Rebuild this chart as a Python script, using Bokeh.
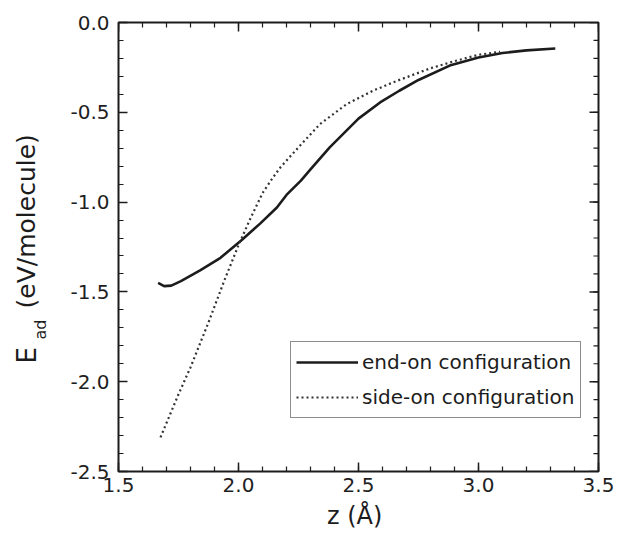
import numpy as np
from bokeh.plotting import figure
from bokeh.layouts import row
from bokeh.models import Range1d, FixedTicker, LinearAxis, Legend
from bokeh.core.properties import value
from bokeh.embed import file_html
from bokeh.resources import INLINE

# ---- data ----
end_on_z = [1.665, 1.69, 1.72, 1.76, 1.84, 1.925, 2.01, 2.09, 2.16, 2.2, 2.26,
            2.3, 2.38, 2.5, 2.59, 2.67, 2.75, 2.88, 3.0, 3.1, 3.2, 3.32]
end_on_E = [-1.45, -1.468, -1.465, -1.44, -1.38, -1.31, -1.215, -1.12, -1.03,
            -0.96, -0.88, -0.818, -0.695, -0.535, -0.445, -0.38, -0.32, -0.24,
            -0.195, -0.17, -0.155, -0.145]

side_on_z = [1.675, 1.75, 1.8, 1.875, 1.94, 2.0, 2.05, 2.1, 2.14, 2.175, 2.26,
             2.34, 2.45, 2.56, 2.66, 2.8, 2.9, 3.0, 3.09]
side_on_E = [-2.31, -2.07, -1.92, -1.67, -1.44, -1.24, -1.09, -0.95, -0.87,
             -0.806, -0.68, -0.565, -0.455, -0.38, -0.325, -0.255, -0.215,
             -0.18, -0.163]

x_ticks = [1.5, 2.0, 2.5, 3.0, 3.5]
x_tick_labels = ["1.5", "2.0", "2.5", "3.0", "3.5"]
y_ticks = [0.0, -0.5, -1.0, -1.5, -2.0, -2.5]
y_tick_labels = ["0.0", "-0.5", "-1.0", "-1.5", "-2.0", "-2.5"]

series_names = ["end-on configuration", "side-on configuration"]
x_title = "z  (Å)"
y_title_parts = ["E", "ad", "(eV/molecule)"]

FONT = "DejaVu Sans"
INK = "#1c1c1c"
X0, X1 = 1.5, 3.5
Y0, Y1 = -2.5, 0.0
H = 535
TOP, BOTTOM = 22, 471   # frame edges in page pixels
LW = 56  # width of the strip that carries the y title

p = figure(width=616 - LW, height=H, output_backend="svg",
           toolbar_location=None,
           x_range=Range1d(X0, X1), y_range=Range1d(Y0, Y1),
           min_border_left=118 - LW, min_border_right=18,
           min_border_top=TOP, min_border_bottom=H - BOTTOM,
           background_fill_color="white",
           border_fill_color="white", outline_line_color=INK,
           outline_line_width=2)
p.grid.visible = False
p.xaxis.visible = False
p.yaxis.visible = False

x_minor = [round(v, 2) for v in np.arange(X0, X1 + 1e-4, 0.1)]
y_minor = [round(v, 2) for v in np.arange(Y0, Y1 + 1e-4, 0.1)]

def style_axis(ax, ticks, labels, minor, standoff):
    ax.ticker = FixedTicker(ticks=ticks, minor_ticks=minor)
    ax.major_label_overrides = {t: l for t, l in zip(ticks, labels)}
    ax.axis_line_color = None
    ax.major_tick_line_color = INK
    ax.major_tick_line_width = 1.5
    ax.minor_tick_line_color = INK
    ax.minor_tick_line_width = 1.2
    ax.major_tick_in = 9
    ax.major_tick_out = 0
    ax.minor_tick_in = 5
    ax.minor_tick_out = 0
    ax.major_label_standoff = standoff
    ax.major_label_text_font = FONT
    ax.major_label_text_color = "#1e1e1e"
    ax.major_label_text_font_size = "20px"

xb = LinearAxis(axis_label=x_title)
style_axis(xb, x_ticks, x_tick_labels, x_minor, 6)
xb.axis_label_text_font = FONT
xb.axis_label_text_font_size = "24px"
xb.axis_label_text_font_style = "normal"
xb.axis_label_text_color = INK
xb.axis_label_standoff = 7
yl = LinearAxis()
style_axis(yl, y_ticks, y_tick_labels, y_minor, 9)
p.add_layout(xb, "below")
p.add_layout(yl, "left")

# mirrored inward ticks on the top and right edges (the outer half of each
# dash is clipped by the frame, leaving an inward tick)
p.scatter(x_ticks, [Y1] * len(x_ticks), marker="dash", angle=np.pi / 2,
          size=18, line_color=INK, line_width=1.5)
p.scatter(x_minor, [Y1] * len(x_minor), marker="dash", angle=np.pi / 2,
          size=10, line_color=INK, line_width=1.2)
p.scatter([X1] * len(y_ticks), y_ticks, marker="dash", size=18,
          line_color=INK, line_width=1.5)
p.scatter([X1] * len(y_minor), y_minor, marker="dash", size=10,
          line_color=INK, line_width=1.2)

r1 = p.line(end_on_z, end_on_E, line_color=INK, line_width=2.6)
r2 = p.line(side_on_z, side_on_E, line_color="#333333", line_width=2.2,
            line_dash="2 3")

legend = Legend(items=[(series_names[0], [r1]), (series_names[1], [r2])],
                location=(172, 53), orientation="vertical")
legend.border_line_color = INK
legend.border_line_width = 1.5
legend.background_fill_color = "white"
legend.background_fill_alpha = 1.0
legend.padding = 5
legend.spacing = 5
legend.margin = 0
legend.glyph_width = 62
legend.glyph_height = 30
legend.label_height = 30
legend.label_standoff = 4
legend.label_text_font = FONT
legend.label_text_font_size = "20px"
legend.label_text_color = INK
p.add_layout(legend, "center")

# strip on the left carrying the composite y title (E with subscript "ad").
# In a row its frame is aligned with the main frame (TOP..BOTTOM), so its
# y range is expressed in page pixels measured upward from the bottom edge.
t = figure(width=LW, height=H, output_backend="svg", toolbar_location=None,
           x_range=Range1d(0, LW), y_range=Range1d(H - BOTTOM, H - TOP),
           min_border=0, outline_line_color=None,
           background_fill_color="white", border_fill_color="white")
t.axis.visible = False
t.grid.visible = False
DX = -8  # empirical horizontal correction for rotated-text placement
t.text(x=[34 + DX], y=[H - 363], text=[y_title_parts[0]],
       angle=np.pi / 2, text_font=value(FONT), text_font_size="26px",
       text_color=INK, text_align="left", text_baseline="alphabetic")
t.text(x=[48 + DX], y=[H - 339], text=[y_title_parts[1]],
       angle=np.pi / 2, text_font=value(FONT), text_font_size="16px",
       text_color=INK, text_align="left", text_baseline="alphabetic")
t.text(x=[34 + DX], y=[H - 308], text=[y_title_parts[2]],
       angle=np.pi / 2, text_font=value(FONT), text_font_size="25px",
       text_color=INK, text_align="left", text_baseline="alphabetic")

layout = row(t, p, spacing=0)
open("out.html", "w").write(file_html(layout, INLINE))
